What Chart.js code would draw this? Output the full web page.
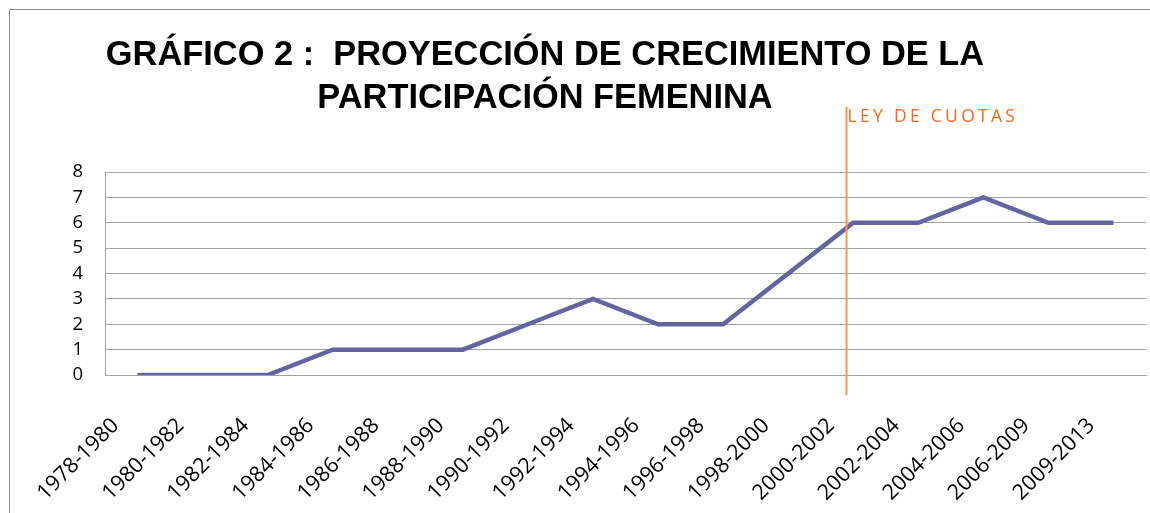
<!DOCTYPE html>
<html>
<head>
<meta charset="utf-8">
<script src="https://cdn.jsdelivr.net/npm/chart.js@4/dist/chart.umd.min.js"></script>
<style>
  html, body { margin: 0; padding: 0; background: #fff; }
  #wrap { width: 1150px; height: 513px; position: relative; }
</style>
</head>
<body>
<div id="wrap"><canvas id="grafico"></canvas></div>
<script>
// Datos
const periodos = ['1978-1980', '1980-1982', '1982-1984', '1984-1986', '1986-1988', '1988-1990',
    '1990-1992', '1992-1994', '1994-1996', '1996-1998', '1998-2000', '2000-2002',
    '2002-2004', '2004-2006', '2006-2009', '2009-2013'];
const participacion = [0, 0, 0, 1, 1, 1, 2, 3, 2, 2, 4, 6, 6, 7, 6, 6];
const tituloLineas = ['GRÁFICO 2 :  PROYECCIÓN DE CRECIMIENTO DE LA', 'PARTICIPACIÓN FEMENINA'];
const leyCuotasTexto = 'LEY DE CUOTAS';
const leyCuotasPos = 10.9; // en unidades de categoria, justo antes de 2000-2002

const fuenteEjes = '"Open Sans", "Noto Sans", sans-serif';

/**
 * Marco, titulo y linea de la ley de cuotas
 */
const extras = {
    id: 'extras',
    afterDraw(chart) {
        const ctx = chart.ctx;
        const x = chart.scales.x;
        const y = chart.scales.y;
        ctx.save();

        // marco del grafico
        ctx.strokeStyle = '#8c8c8c';
        ctx.lineWidth = 1;
        ctx.beginPath();
        ctx.moveTo(9.5, 513);
        ctx.lineTo(9.5, 9.5);
        ctx.lineTo(1150, 9.5);
        ctx.stroke();

        // titulo
        ctx.fillStyle = '#000';
        ctx.font = 'bold 34.4px "Liberation Sans", Arial, sans-serif';
        ctx.textAlign = 'center';
        ctx.textBaseline = 'alphabetic';
        ctx.fillText(tituloLineas[0], 545, 65);
        ctx.fillText(tituloLineas[1], 545, 108);

        // ley de cuotas
        const px = Math.round(x.getPixelForValue(leyCuotasPos)) - 0.5;
        ctx.strokeStyle = '#f79646';
        ctx.lineWidth = 2;
        ctx.beginPath();
        ctx.moveTo(px, 107);
        ctx.lineTo(px, y.bottom + 20);
        ctx.stroke();

        ctx.fillStyle = '#f26a1b';
        ctx.font = '17.5px ' + fuenteEjes;
        ctx.textAlign = 'left';
        ctx.letterSpacing = '3.3px';
        ctx.fillText(leyCuotasTexto, px + 1, 122);
        ctx.restore();
    }
};

new Chart(document.getElementById('grafico'), {
    type: 'line',
    data: {
        labels: periodos,
        datasets: [{
            label: 'Participación femenina',
            data: participacion,
            borderColor: '#6464a0',
            borderWidth: 4.5,
            pointRadius: 0,
            tension: 0,
            fill: false
        }]
    },
    options: {
        responsive: true,
        maintainAspectRatio: false,
        animation: false,
        layout: {
            padding: { left: 9, top: 172, right: 4, bottom: 0 }
        },
        plugins: {
            legend: { display: false },
            tooltip: { enabled: false },
            title: { display: false }
        },
        scales: {
            x: {
                offset: true,
                grid: { display: false, drawTicks: false },
                border: { display: true, color: '#a0a0a0', width: 1 },
                ticks: {
                    color: '#000',
                    font: { family: fuenteEjes, size: 21.5 },
                    minRotation: 45,
                    maxRotation: 45,
                    autoSkip: false,
                    padding: 38,
                    labelOffset: -22
                },
                afterFit(scale) {
                    scale.height = 138;
                    scale.paddingLeft = 0;
                    scale.paddingRight = 0;
                }
            },
            y: {
                min: 0,
                max: 8,
                grid: { color: '#a0a0a0', lineWidth: 1, drawTicks: false },
                border: { display: true, color: '#a0a0a0', width: 1 },
                ticks: {
                    stepSize: 1,
                    color: '#000',
                    font: { family: fuenteEjes, size: 18.5 },
                    padding: 22
                },
                afterFit(scale) { scale.width = 96; }
            }
        }
    },
    plugins: [extras]
});
</script>
</body>
</html>
